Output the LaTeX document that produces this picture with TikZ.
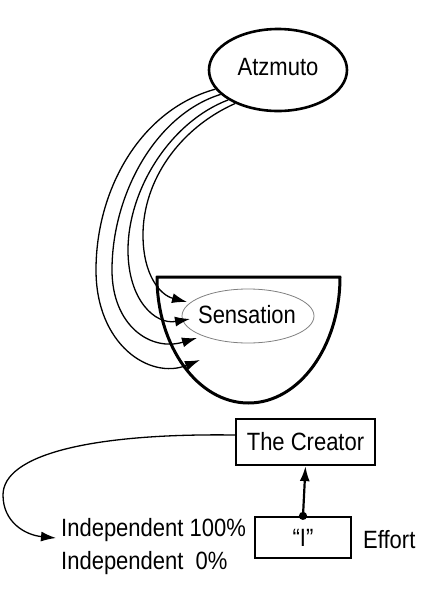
\documentclass[tikz,border=0pt]{standalone}
\usepackage{fontspec}
\setmainfont{Liberation Sans}[FakeStretch=0.88]
\usetikzlibrary{arrows.meta,shapes.geometric}
\begin{document}
\begin{tikzpicture}[x=1pt,y=-1pt,
  every node/.style={font=\fontsize{25}{33}\selectfont, inner sep=0pt},
  bigell/.style={draw, ellipse, line width=2.6pt},
  thinell/.style={draw=gray, ellipse, line width=0.8pt},
  boxnode/.style={draw, rectangle, line width=2.2pt},
  flow/.style={line width=1.3pt, -{Latex[length=15pt,width=10pt]}},
  lbl/.style={anchor=base west}]
\useasboundingbox (0,0) rectangle (435,600);
% bowl
\draw[line width=3pt, line join=round] (157,277) -- (340,277) arc[start angle=0,end angle=180,x radius=91.5,y radius=126] -- cycle;
\node[bigell, minimum width=138pt, minimum height=82pt] (atz) at (278,70) {};
\node[anchor=base] (atztext) at (278,75) {Atzmuto};
\node[thinell, minimum width=132pt, minimum height=54pt] (sens) at (248,316) {};
\node[anchor=base] (senstext) at (247,323) {Sensation};
\node[boxnode, minimum width=139pt, minimum height=46pt] (creator) at (305.5,442) {The Creator};
\node[boxnode, minimum width=96pt, minimum height=41pt] (ibox) at (303,537.5) {\char"201C I\char"201D};
\node[lbl] (indepa) at (61,536) {Independent 100\%};
\node[lbl] (indepb) at (61,569) {Independent\ \ 0\%};
\node[lbl] (effort) at (363,548) {Effort};
% arrow endpoints
\coordinate (t1) at (200,360);
\coordinate (t2) at (197,338);
\coordinate (t3) at (190,319);
\coordinate (t4) at (187,302);
\coordinate (it) at (56,538);
\draw[flow] (atz.197) .. controls (140,110) and (96,190) .. (96,270) .. controls (96,345) and (150,380) .. (t1);
\draw[flow] (atz.203) .. controls (155,115) and (112,195) .. (112,270) .. controls (112,325) and (150,352) .. (t2);
\draw[flow] (atz.211) .. controls (170,122) and (128,190) .. (128,250) .. controls (128,300) and (155,325) .. (t3);
\draw[flow] (atz.218) .. controls (180,128) and (143,180) .. (143,235) .. controls (143,275) and (160,295) .. (t4);
\draw[flow] (creator.west |- 0,435) .. controls (90,433) and (3,455) .. (3,495) .. controls (3,522) and (25,535) .. (it);
\draw[line width=2.2pt, {Circle[length=8pt]}-{Latex[length=15pt,width=10pt]}, shorten <=-4pt] (ibox.north) -- (creator.south);
\end{tikzpicture}
\end{document}
